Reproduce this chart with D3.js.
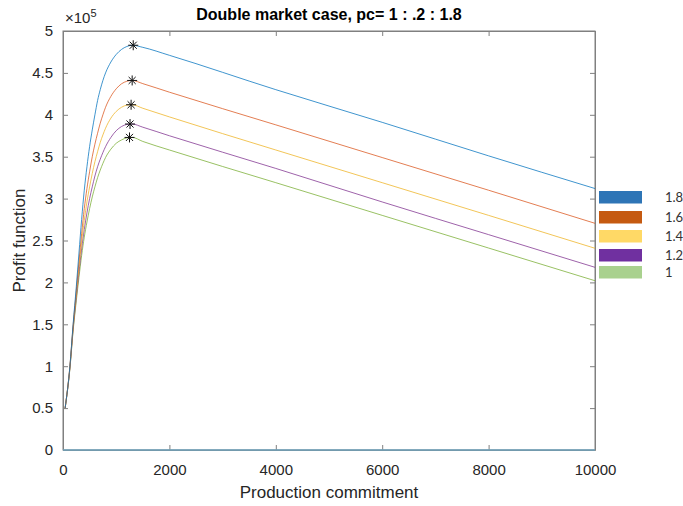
<!DOCTYPE html>
<html><head><meta charset="utf-8">
<script src="https://cdn.jsdelivr.net/npm/d3@7"></script>
<style>
body{margin:0;background:#fff;}
svg{display:block;font-family:"Liberation Sans",Arial,sans-serif;}
</style></head><body>
<svg id="c" width="683" height="506"></svg>
<script>
// ---- data ----
const qValues = [40,130,190,250,300,350,400,450,500,550,600,650,700,750,800,900,1000,1100,1200,1300,1500,2000,4000,6000,8000,10000];
const seriesNames = ["1.8","1.6","1.4","1.2","1"];
const profit18 = [0.50,1.00,1.50,1.95,2.35,2.75,3.10,3.38,3.62,3.82,4.00,4.17,4.30,4.41,4.50,4.63,4.72,4.78,4.815,4.83,4.805,4.71,4.30,3.91,3.51,3.12];
const profit16 = [0.50,1.00,1.48,1.90,2.25,2.58,2.88,3.12,3.32,3.50,3.65,3.78,3.90,4.00,4.09,4.22,4.31,4.37,4.40,4.41,4.372,4.27,3.88,3.49,3.10,2.705];
const profit14 = [0.50,0.99,1.46,1.86,2.18,2.48,2.74,2.96,3.14,3.30,3.44,3.56,3.67,3.76,3.84,3.96,4.04,4.09,4.115,4.12,4.078,3.975,3.58,3.19,2.80,2.407];
const profit12 = [0.50,0.98,1.44,1.82,2.12,2.40,2.63,2.83,3.00,3.14,3.27,3.38,3.47,3.55,3.62,3.73,3.81,3.86,3.885,3.89,3.852,3.75,3.36,2.96,2.57,2.18];
const profit10 = [0.50,0.97,1.42,1.78,2.06,2.32,2.54,2.72,2.88,3.02,3.14,3.25,3.34,3.42,3.49,3.59,3.66,3.70,3.725,3.73,3.682,3.58,3.19,2.80,2.41,2.02];
const peakQ = [1320,1300,1280,1260,1250];
const peakV = [4.83,4.41,4.12,3.89,3.73];
const xTicks = [0,2000,4000,6000,8000,10000];
const yTicks = [0,0.5,1,1.5,2,2.5,3,3.5,4,4.5,5];
const lineColors = ["#0072BD","#D95319","#EDB120","#7E2F8E","#77AC30"];
const legendColors = ["#2E75B6","#C55A11","#FFD966","#7030A0","#A9D18E"];

const allSeries = [profit18,profit16,profit14,profit12,profit10];

const svg = d3.select("#c");
const L=63,R=595,T=31,B=450;
const x = d3.scaleLinear().domain([0,10000]).range([L,R]);
const y = d3.scaleLinear().domain([0,5]).range([B,T]);
const axCol = "#262626", lineGray="#808080";

// box
svg.append("rect").attr("x",L).attr("y",T).attr("width",R-L).attr("height",B-T)
  .attr("fill","#fff").attr("stroke",lineGray).attr("stroke-width",1);

// axes
const fmtY = d => String(d);
const gx = svg.append("g").attr("transform",`translate(0,${B})`)
  .call(d3.axisBottom(x).tickValues(xTicks).tickSizeInner(-5).tickSizeOuter(0).tickPadding(14).tickFormat(d3.format("d")));
const gxt = svg.append("g").attr("transform",`translate(0,${T})`)
  .call(d3.axisTop(x).tickValues(xTicks).tickSizeInner(-5).tickSizeOuter(0).tickFormat(""));
const gy = svg.append("g").attr("transform",`translate(${L},0)`)
  .call(d3.axisLeft(y).tickValues(yTicks).tickSizeInner(-5).tickSizeOuter(0).tickPadding(10).tickFormat(fmtY));
const gyr = svg.append("g").attr("transform",`translate(${R},0)`)
  .call(d3.axisRight(y).tickValues(yTicks).tickSizeInner(-5).tickSizeOuter(0).tickFormat(""));
[gx,gxt,gy,gyr].forEach(g=>{
  g.select(".domain").attr("stroke",lineGray);
  g.selectAll(".tick line").attr("stroke",lineGray);
  g.selectAll(".tick text").attr("fill",axCol).attr("font-size",15).attr("font-family","Liberation Sans,Arial,sans-serif");
});

// data lines
const line = d3.line().x((d,i)=>x(qValues[i])).y(d=>y(d)).curve(d3.curveMonotoneX);
allSeries.slice().reverse().forEach((s,k)=>{
  const i = allSeries.length-1-k;
  svg.append("path").datum(s).attr("d",line).attr("fill","none")
    .attr("stroke",lineColors[i]).attr("stroke-width",1).attr("stroke-opacity",0.75);
});
// zero line (bottom)
svg.append("line").attr("x1",x(0)).attr("x2",x(10000)).attr("y1",y(0)).attr("y2",y(0))
  .attr("stroke","#6FA3BD").attr("stroke-width",1.5);

// star markers
const star = (cx,cy,r)=>{
  const a=r*0.7071;
  return `M${cx-r},${cy}L${cx+r},${cy}M${cx},${cy-r}L${cx},${cy+r}M${cx-a},${cy-a}L${cx+a},${cy+a}M${cx-a},${cy+a}L${cx+a},${cy-a}`;
};
svg.append("g").selectAll("path").data(peakQ).join("path")
  .attr("d",(d,i)=>star(x(d),y(peakV[i]),5))
  .attr("stroke","#111").attr("stroke-width",1).attr("fill","none");

// exponent
const ex = svg.append("text").attr("x",L+2).attr("y",T-8).attr("fill",axCol).attr("font-size",15);
ex.append("tspan").text("\u00d710");
ex.append("tspan").attr("font-size",11).attr("dy",-6).text("5");

// title
svg.append("text").attr("x",(L+R)/2).attr("y",20).attr("text-anchor","middle")
  .attr("font-weight","bold").attr("font-size",16).attr("fill","#000")
  .text("Double market case, pc= 1 : .2 : 1.8");
// axis labels
svg.append("text").attr("x",(L+R)/2).attr("y",498).attr("text-anchor","middle")
  .attr("font-size",17).attr("fill",axCol).text("Production commitment");
svg.append("text").attr("transform",`translate(25,${(T+B)/2}) rotate(-90)`).attr("text-anchor","middle")
  .attr("font-size",17).attr("fill",axCol).text("Profit function");

// legend (separate graphic)
const legY = [191,211,230,249,266];
const lg = svg.append("g");
seriesNames.forEach((n,i)=>{
  lg.append("rect").attr("x",599).attr("y",legY[i]).attr("width",43).attr("height",12.5)
    .attr("fill",legendColors[i]);
  lg.append("text").attr("x",665).attr("y",legY[i]+10.5).attr("font-family","Lato,'Open Sans',sans-serif")
    .attr("font-size",13).attr("fill","#333").text(n);
});
</script>
</body></html>
